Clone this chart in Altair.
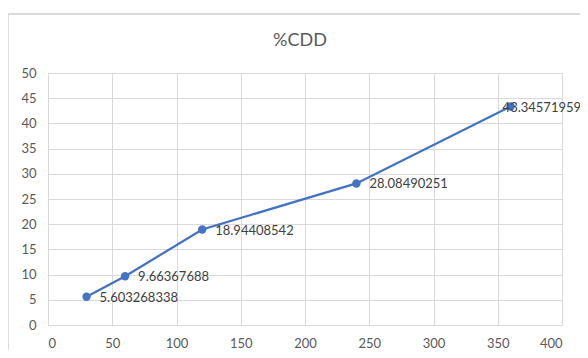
import altair as alt
import pandas as pd

days = [30, 60, 120, 240, 360]
cdd = [5.603268338, 9.66367688, 18.94408542, 28.08490251, 43.34571959]
labels = ["5.603268338", "9.66367688", "18.94408542", "28.08490251", "43.34571959"]
x_ticks = [0, 50, 100, 150, 200, 250, 300, 350, 400]
y_ticks = [0, 5, 10, 15, 20, 25, 30, 35, 40, 45, 50]
title_text = "%CDD"

df = pd.DataFrame({"x": days, "y": cdd, "label": labels})

FONT = "Lato"
GRAY = "#595959"
BLUE = "#4472C4"

xs = alt.Scale(domain=[0, 400], nice=False)
ys = alt.Scale(domain=[0, 50], nice=False)

base = alt.Chart(df).encode(
    x=alt.X("x:Q", scale=xs, axis=alt.Axis(values=x_ticks, title=None, grid=True,
                                           gridColor="#D9D9D9", domain=True, domainColor="#D9D9D9",
                                           ticks=False, labelPadding=12, labelFont=FONT,
                                           labelFontSize=13, labelColor=GRAY)),
    y=alt.Y("y:Q", scale=ys, axis=alt.Axis(values=y_ticks, title=None, grid=True,
                                           gridColor="#D9D9D9", domain=True, domainColor="#D9D9D9",
                                           ticks=False, labelPadding=12, labelFont=FONT,
                                           labelFontSize=13, labelColor=GRAY)),
)

border = alt.Chart(df).mark_rect(fill=None, stroke="#D9D9D9", strokeWidth=1).encode(
    x=alt.value(-40), x2=alt.value(620), y=alt.value(-59), y2=alt.value(400)
)

title = alt.Chart(pd.DataFrame({"t": [title_text]})).mark_text(
    align="center", baseline="middle", font=FONT, fontSize=18, color=GRAY
).encode(text="t:N", x=alt.value(252), y=alt.value(-32))

line = base.mark_line(color=BLUE, strokeWidth=2.25)
points = base.mark_circle(color=BLUE, size=70, opacity=1)
text_main = base.transform_filter("datum.x < 300").mark_text(
    align="left", baseline="middle", dx=13, dy=1, font=FONT, fontSize=13, color="#404040"
).encode(text="label:N")
text_last = base.transform_filter("datum.x >= 300").mark_text(
    align="left", baseline="middle", dx=-8, dy=1, font=FONT, fontSize=13, color="#404040"
).encode(text="label:N")

chart = alt.layer(border, title, line, points, text_main, text_last).properties(
    width=514, height=252,
    autosize=alt.AutoSizeParams(type="none"),
    padding={"left": 40, "top": 65, "right": 18, "bottom": 25},
).configure_view(stroke=None)

chart.save("out.html", embed_options={"renderer": "svg", "actions": False})
